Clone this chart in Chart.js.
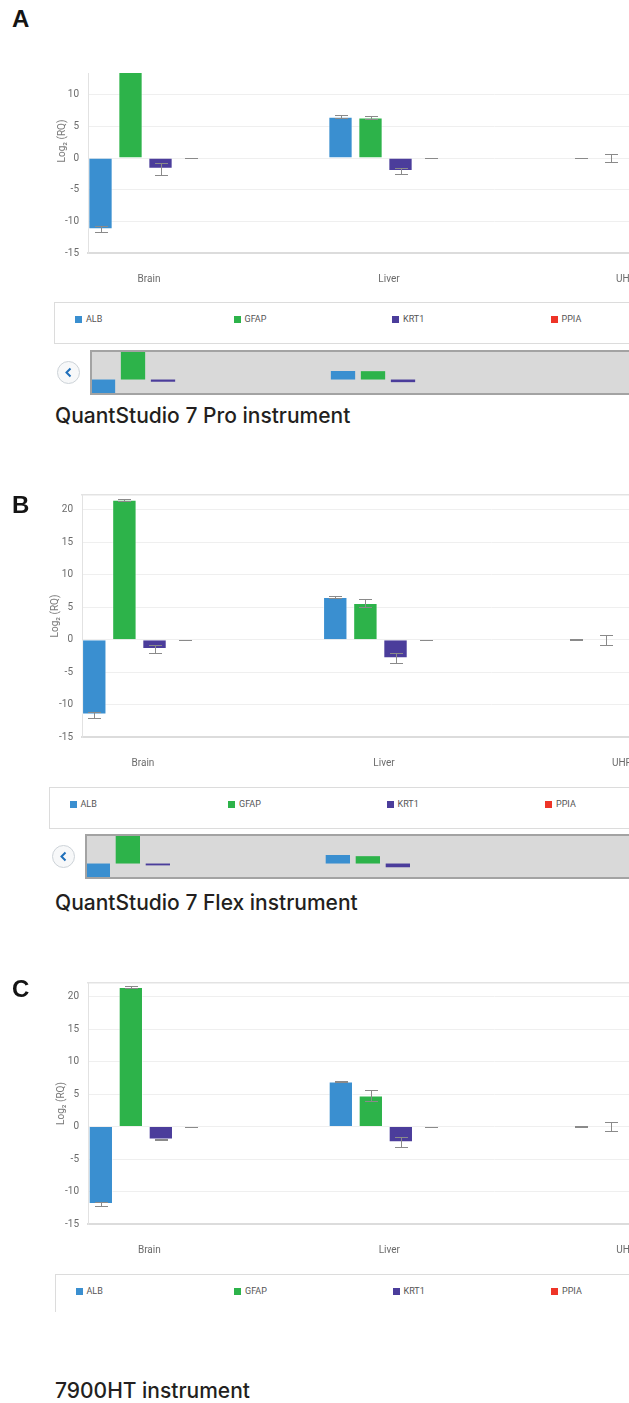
<!DOCTYPE html>
<html>
<head>
<meta charset="utf-8">
<script src="https://cdn.jsdelivr.net/npm/chart.js@4.4.1/dist/chart.umd.min.js"></script>
<style>
  html, body { margin: 0; padding: 0; background: #fff; }
  #page { position: relative; width: 629px; height: 1403px; overflow: hidden; background: #fff; }
  .letter { position: absolute; left: 12px; font: bold 24px "Liberation Sans", Arial, sans-serif; line-height: 1; color: #141414; }
  .caption { position: absolute; left: 55px; font: 500 21px Inter, "Liberation Sans", sans-serif; line-height: 1; color: #231f20; white-space: nowrap; }
  .clip { position: absolute; left: 0; width: 629px; overflow: hidden; }
  .holder { position: absolute; left: 0; width: 900px; }
  .legend { position: absolute; width: 760px; box-sizing: border-box; border: 1px solid #dcdcdc; background: #fff; }
  .legend .item { position: absolute; top: 11.5px; height: 9px; display: flex; align-items: center; font: 9px Roboto, sans-serif; color: #555; white-space: nowrap; }
  .legend .sw { width: 7px; height: 7px; margin-right: 4px; }
  .nav { position: absolute; width: 760px; height: 45px; box-sizing: border-box; border: 2px solid #a3a3a3; background: #d9d9d9; overflow: hidden; }
  .nav .holder { left: -2px; top: -2px; height: 45px; }
  .btn { position: absolute; width: 23px; height: 23px; border-radius: 50%; box-sizing: border-box; border: 1px solid #cdd3d8; background: #f7f8f9; }
  .btn svg { position: absolute; left: 0; top: 0; }
</style>
</head>
<body>
<div id="page">
  <div class="letter" style="top:7px">A</div>
  <div class="clip" style="top:73px;height:229px">
    <div class="holder" style="top:-64px;height:284px"><canvas id="mainA" width="900" height="284"></canvas></div>
  </div>
  <div class="legend" id="legA" style="left:54px;top:302px;height:42px"></div>
  <div class="btn" style="left:57px;top:361px"><svg width="21" height="21"><polyline points="12.5,6.5 8.5,10.5 12.5,14.5" fill="none" stroke="#1f6fba" stroke-width="2"/></svg></div>
  <div class="nav" style="left:90px;top:350px"><div class="holder"><canvas id="navA" width="900" height="45"></canvas></div></div>
  <div class="caption" style="top:405px">QuantStudio 7 Pro instrument</div>

  <div class="holder" style="top:475px;height:302px"><canvas id="mainB" width="900" height="302"></canvas></div>
  <div class="letter" style="top:493px">B</div>
  <div class="legend" id="legB" style="left:48.5px;top:787px;height:41.5px"></div>
  <div class="btn" style="left:51.5px;top:845px"><svg width="21" height="21"><polyline points="12.5,6.5 8.5,10.5 12.5,14.5" fill="none" stroke="#1f6fba" stroke-width="2"/></svg></div>
  <div class="nav" style="left:85px;top:834px"><div class="holder"><canvas id="navB" width="900" height="45"></canvas></div></div>
  <div class="caption" style="top:892px">QuantStudio 7 Flex instrument</div>

  <div class="holder" style="top:963px;height:301px"><canvas id="mainC" width="900" height="301"></canvas></div>
  <div class="letter" style="top:977px">C</div>
  <div class="legend" id="legC" style="left:54.5px;top:1274px;height:38px;border-bottom:none"></div>
  <div class="caption" style="top:1380px">7900HT instrument</div>
</div>

<script>
Chart.defaults.font.family = 'Roboto, sans-serif';

const samples = ['Brain', 'Liver', 'UHRR'];
const genes = ['ALB', 'GFAP', 'KRT1', 'PPIA'];
const geneColors = ['#3a8fd0', '#2db34a', '#4b3d9b', '#ee3427'];
const yTicks = [-15, -10, -5, 0, 5, 10, 15, 20];

// Log2(RQ) per gene, one value per sample (Brain, Liver, UHRR)
// A - QuantStudio 7 Pro
const proALB = [-11.25, 6.55, 0];
const proGFAP = [21.6, 6.42, 0];
const proKRT1 = [-1.7, -2.03, 0];
const proPPIA = [0, 0, 0];
const proALBErr = [0.5, 0.2, 0.05];
const proGFAPErr = [0.2, 0.3, 0.63];
const proKRT1Err = [1.0, 0.5, 0];
const proPPIAErr = [0, 0, 0];

// B - QuantStudio 7 Flex
const flexALB = [-11.55, 6.56, 0];
const flexGFAP = [21.55, 5.65, 0];
const flexKRT1 = [-1.43, -2.87, 0];
const flexPPIA = [0, 0, 0];
const flexALBErr = [0.47, 0.1, 0.05];
const flexGFAPErr = [0.1, 0.63, 0.77];
const flexKRT1Err = [0.64, 0.77, 0];
const flexPPIAErr = [0, 0, 0];

// C - 7900HT
const htALB = [-11.92, 6.93, 0];
const htGFAP = [21.48, 4.8, 0];
const htKRT1 = [-2.0, -2.4, 0];
const htPPIA = [0, 0, 0];
const htALBErr = [0.37, 0.1, 0.05];
const htGFAPErr = [0.2, 0.88, 0.72];
const htKRT1Err = [0.12, 0.75, 0];
const htPPIAErr = [0, 0, 0];

// error bars drawn with the chart's own y scale and bar positions
const errorBars = {
	id: 'errorBars',
	afterDatasetsDraw(chart) {
		const ctx = chart.ctx;
		const y = chart.scales.y;
		const area = chart.chartArea;
		ctx.save();
		ctx.beginPath();
		ctx.rect(area.left, area.top, area.right - area.left, area.bottom - area.top);
		ctx.clip();
		ctx.strokeStyle = '#8a8a8a';
		ctx.lineWidth = 1;
		chart.data.datasets.forEach((ds, k) => {
			const meta = chart.getDatasetMeta(k);
			meta.data.forEach((bar, i) => {
				const v = ds.data[i].y;
				const e = ds.errors[i];
				const top = Math.round(y.getPixelForValue(v + e)) + 0.5;
				const bot = Math.round(y.getPixelForValue(v - e)) + 0.5;
				const cx = Math.round(bar.x) + 0.5;
				ctx.beginPath();
				ctx.moveTo(cx, top); ctx.lineTo(cx, bot);
				ctx.moveTo(cx - 6.5, top); ctx.lineTo(cx + 6.5, top);
				ctx.moveTo(cx - 6.5, bot); ctx.lineTo(cx + 6.5, bot);
				ctx.stroke();
			});
		});
		ctx.restore();
	}
};

function makeDatasets(values, errors, border) {
	return genes.map((g, k) => ({
		label: g,
		data: samples.map((s, i) => ({ x: i, y: values[k][i] })),
		errors: errors ? errors[k] : null,
		backgroundColor: geneColors[k],
		borderColor: 'rgba(255,255,255,0.55)',
		borderWidth: border ? 1 : 0,
		categoryPercentage: 0.5,
		barPercentage: 0.81
	}));
}

function drawMain(id, values, errors, o) {
	const scales = {
		x: {
			type: 'linear', offset: false, bounds: 'data', min: o.xMin, max: o.xMin + (900 - o.axisW) / o.catPx,
			grid: { display: false, drawTicks: false, offset: false },
			border: { display: true, color: '#dcdcdc', width: 2 },
			ticks: { padding: 20, labelOffset: 3.5, maxRotation: 0, color: '#6b6b6b', font: { size: 10 }, callback: v => samples[v] },
			afterBuildTicks: ax => { ax.ticks = samples.map((s, i) => ({ value: i })); },
			afterFit: ax => { ax.height = 40; }
		},
		y: {
			bounds: 'data', min: -15, max: o.yMax,
			grid: { color: '#efefef', drawTicks: false },
			border: { display: true, color: '#e2e2e2', width: 1 },
			ticks: { padding: 9, color: '#6b6b6b', font: { size: 10 } },
			title: { display: true, text: 'Log₂ (RQ)', color: '#7a7a7a', font: { size: 10 }, padding: { top: o.titlePad, bottom: 0 } },
			afterBuildTicks: ax => { ax.ticks = yTicks.filter(v => v <= o.yMax).map(v => ({ value: v })); },
			afterFit: ax => { ax.width = o.axisW; }
		}
	};
	if (o.frame) {
		scales.frame = {
			type: 'linear', position: 'top', offset: false,
			grid: { display: false, drawTicks: false },
			ticks: { display: false },
			border: { display: true, color: '#e3e3e3', width: 1.5 },
			afterFit: ax => { ax.height = 0; }
		};
	}
	return new Chart(document.getElementById(id), {
		type: 'bar',
		data: { datasets: makeDatasets(values, errors, true) },
		options: {
			responsive: false,
			animation: false,
			layout: { padding: { top: 20, left: 0, right: 0, bottom: 0 } },
			plugins: { legend: { display: false }, tooltip: { enabled: false } },
			scales: scales
		},
		plugins: [errorBars]
	});
}

// navigator strip under the plot: same data, no axes
function drawNav(id, values, xMin) {
	return new Chart(document.getElementById(id), {
		type: 'bar',
		data: { datasets: makeDatasets(values, null, false) },
		options: {
			responsive: false,
			animation: false,
			layout: { padding: 0 },
			plugins: { legend: { display: false }, tooltip: { enabled: false } },
			scales: {
				x: {
					type: 'linear', display: false, offset: false, bounds: 'data', min: xMin, max: xMin + 900 / 240,
					afterBuildTicks: ax => { ax.ticks = samples.map((s, i) => ({ value: i })); }
				},
				y: { display: false, bounds: 'data', min: -11.9, max: 22.7 }
			}
		}
	});
}

function buildLegend(id) {
	const box = document.getElementById(id);
	genes.forEach((g, k) => {
		const item = document.createElement('div');
		item.className = 'item';
		item.style.left = (20 + k * 158.5) + 'px';
		item.innerHTML = '<span class="sw" style="background:' + geneColors[k] + '"></span>' + g;
		box.appendChild(item);
	});
}

drawMain('mainA', [proALB, proGFAP, proKRT1, proPPIA], [proALBErr, proGFAPErr, proKRT1Err, proPPIAErr],
	{ xMin: -0.2396, catPx: 240, axisW: 88, yMax: 20.4, titlePad: 56, frame: false });
drawNav('navA', [proALB, proGFAP, proKRT1, proPPIA], -0.2417);
buildLegend('legA');

drawMain('mainB', [flexALB, flexGFAP, flexKRT1, flexPPIA], [flexALBErr, flexGFAPErr, flexKRT1Err, flexPPIAErr],
	{ xMin: -0.2384, catPx: 241, axisW: 82, yMax: 22.3, titlePad: 49, frame: true });
drawNav('navB', [flexALB, flexGFAP, flexKRT1, flexPPIA], -0.241);
buildLegend('legB');

drawMain('mainC', [htALB, htGFAP, htKRT1, htPPIA], [htALBErr, htGFAPErr, htKRT1Err, htPPIAErr],
	{ xMin: -0.241, catPx: 240, axisW: 88, yMax: 22.1, titlePad: 55, frame: true });
buildLegend('legC');
</script>
</body>
</html>
